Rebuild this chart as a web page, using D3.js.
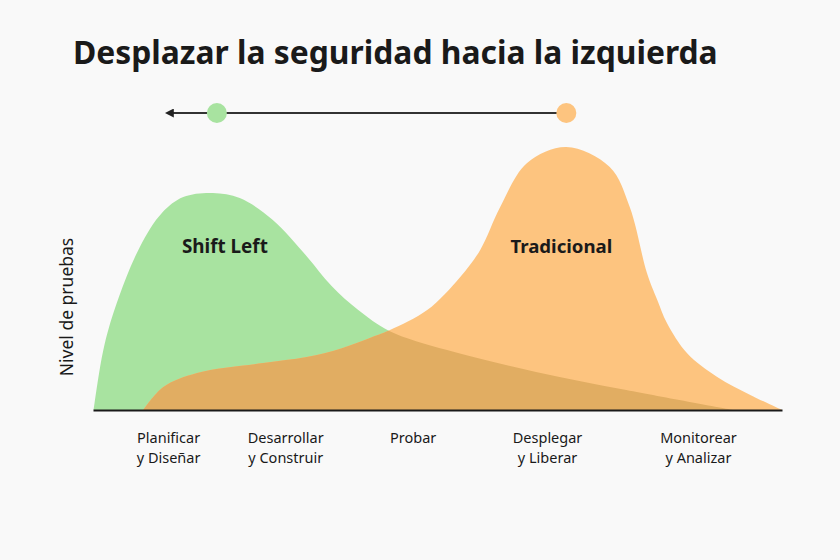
<!DOCTYPE html>
<html>
<head>
<meta charset="utf-8">
<script src="https://cdn.jsdelivr.net/npm/d3@7"></script>
<style>
  html, body { margin: 0; padding: 0; background: #f9f9f9; }
  svg { display: block; }
  text { font-family: "Noto Sans", "Open Sans", sans-serif; fill: #1a1a1a; }
</style>
</head>
<body>
<svg id="chart" width="840" height="560"></svg>
<script>
// ---- Data ----
const title = "Desplazar la seguridad hacia la izquierda";
const yAxisLabel = "Nivel de pruebas";

const stageLine1 = ["Planificar", "Desarrollar", "Probar", "Desplegar", "Monitorear"];
const stageLine2 = ["y Diseñar", "y Construir", "", "y Liberar", "y Analizar"];
const stagePos   = [10.9, 27.9, 46.4, 65.9, 87.8];   // position along the lifecycle (0-100)

const seriesNames = ["Shift Left", "Tradicional"];

// Shift Left curve: lifecycle position (0-100) and testing level (0-100)
const shiftLeftX = [0.1, 1.5, 3.3, 6.8, 10.0, 13.1, 17.4, 21.3, 26.1, 31.1, 34.6, 38.5, 43.0, 51.4, 64.3, 77.4, 92.9];
const shiftLeftY = [0,  22.2, 38.5, 60.4, 73.0, 78.9, 80.4, 78.5, 70.4, 56.7, 46.0, 37.0, 29.3, 22.2, 14.1, 7.4, 0];

// Traditional curve
const tradX = [7.3, 10.2, 15.1, 24.7, 31.0, 36.0, 40.0, 43.1, 48.5, 53.3, 56.2, 59.1, 63.0, 68.7, 75.0, 77.9, 80.4, 81.9, 83.3, 86.2, 90.6, 95.4, 100];
const tradY = [0,   8.5,  13.7, 17.4, 19.6, 22.8, 26.5, 29.6, 37.0, 49.3, 59.3, 75.2, 91.5, 97.4, 90.0, 75.2, 50.7, 40.7, 32.2, 21.1, 12.2, 5.6,  0];

// ---- Styles ----
const colGreen = "#a8e3a0";
const colOrange = "#fdc47f";
const colOverlap = "#e1ad62";

const svg = d3.select("#chart");
svg.append("rect").attr("width", 840).attr("height", 560).attr("fill", "#f9f9f9");

const x = d3.scaleLinear().domain([0, 100]).range([93, 782]);
const y = d3.scaleLinear().domain([0, 100]).range([410, 140]);

const shiftData = shiftLeftX.map((v, i) => [v, shiftLeftY[i]]);
const tradData = tradX.map((v, i) => [v, tradY[i]]);

const area = d3.area()
  .x(d => x(d[0]))
  .y0(y(0))
  .y1(d => y(d[1]))
  .curve(d3.curveCatmullRom.alpha(0.5));

const defs = svg.append("defs");
defs.append("clipPath").attr("id", "tradClip")
  .append("path").attr("d", area(tradData));

svg.append("path").attr("d", area(shiftData)).attr("fill", colGreen);
svg.append("path").attr("d", area(tradData)).attr("fill", colOrange);
svg.append("path").attr("d", area(shiftData)).attr("fill", colOverlap)
  .attr("clip-path", "url(#tradClip)");

// ---- Axis ----
const axis = d3.axisBottom(x)
  .tickValues(stagePos)
  .tickSize(0)
  .tickSizeOuter(0)
  .tickPadding(22)
  .tickFormat((d, i) => stageLine1[i]);

const gx = svg.append("g").attr("transform", `translate(0,${y(0)})`).call(axis);
gx.select(".domain").attr("stroke", "#1a1a1a").attr("stroke-width", 2);
gx.selectAll(".tick text")
  .attr("font-size", 14.5)
  .attr("font-family", "'Noto Sans', sans-serif")
  .attr("fill", "#1a1a1a")
  .attr("dy", null)
  .attr("y", 33)
  .each(function(d, i) {
    const t = d3.select(this);
    t.text(null);
    t.append("tspan").attr("x", 0).attr("y", 33).text(stageLine1[i]);
    if (stageLine2[i]) t.append("tspan").attr("x", 0).attr("y", 53).text(stageLine2[i]);
  });

// ---- Y axis label ----
svg.append("text")
  .attr("transform", `translate(73,${(y(0) + y(100)) / 2 + 32}) rotate(-90)`)
  .attr("text-anchor", "middle")
  .attr("font-size", 17.5)
  .text(yAxisLabel);

// ---- Title ----
const titleEl = svg.append("text")
  .attr("x", 73).attr("y", 64)
  .attr("font-weight", 700)
  .attr("font-size", 30)
  .text(title);
const tw = titleEl.node().getComputedTextLength();
titleEl.attr("font-size", 30 * 645 / tw);

// ---- Series labels at curve peaks ----
function peak(data) { return data.reduce((a, b) => (b[1] > a[1] ? b : a)); }
const gPeak = peak(shiftData), oPeak = peak(tradData);

function fitText(sel, target, base) {
  const w = sel.node().getComputedTextLength();
  sel.attr("font-size", base * target / w);
}
const l1 = svg.append("text").attr("x", x(gPeak[0]) + 12).attr("y", 253)
  .attr("text-anchor", "middle").attr("font-weight", 700).attr("font-size", 19).text(seriesNames[0]);
fitText(l1, 86, 19);
const l2 = svg.append("text").attr("x", x(oPeak[0]) - 5).attr("y", 253)
  .attr("text-anchor", "middle").attr("font-weight", 700).attr("font-size", 19).text(seriesNames[1]);
fitText(l2, 102, 19);

// ---- Shift arrow ----
const arrowY = 113;
defs.append("marker").attr("id", "arrowHead")
  .attr("viewBox", "0 0 10 10").attr("refX", 1).attr("refY", 5)
  .attr("markerWidth", 4.5).attr("markerHeight", 4.5).attr("orient", "auto-start-reverse")
  .attr("markerUnits", "strokeWidth")
  .append("path").attr("d", "M0,0 L10,5 L0,10 z").attr("fill", "#222");

svg.append("line")
  .attr("x1", x(oPeak[0])).attr("y1", arrowY)
  .attr("x2", x(gPeak[0]) - 40).attr("y2", arrowY)
  .attr("stroke", "#333").attr("stroke-width", 2)
  .attr("marker-end", "url(#arrowHead)");

svg.append("circle").attr("cx", x(gPeak[0]) + 4).attr("cy", arrowY).attr("r", 10).attr("fill", colGreen);
svg.append("circle").attr("cx", x(oPeak[0])).attr("cy", arrowY).attr("r", 10).attr("fill", colOrange);
</script>
</body>
</html>
